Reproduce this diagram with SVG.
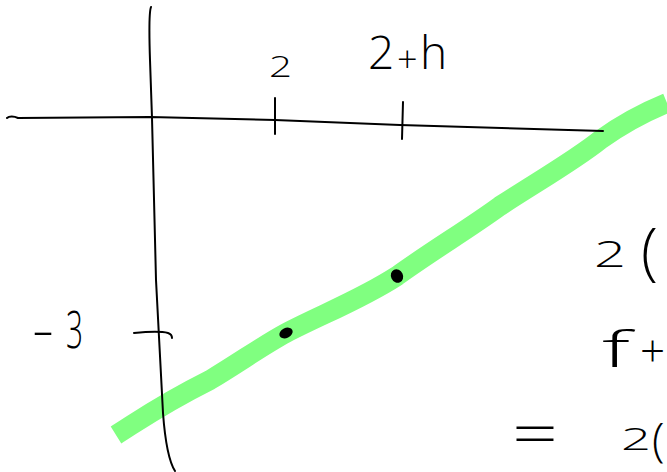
<svg xmlns="http://www.w3.org/2000/svg" width="667" height="472" viewBox="0 0 667 472">
<style>
.ink{fill:none;stroke:#000;stroke-width:2;stroke-linecap:round;stroke-linejoin:round}
.hl{fill:none;stroke:#80FF80;stroke-width:20;stroke-linecap:butt;stroke-linejoin:round}
.t{font-family:"Open Sans","DejaVu Sans",sans-serif;font-weight:300;fill:#000}
.dot{fill:#000}
</style>
<rect width="667" height="472" fill="#fff"/>
<g id="line">
<path class="hl" d="M116,435 C140,420 160,405 210,380 C240,362 262,346 286,333 C320,315 360,300 397,276 C430,252 470,228 500,206 C540,180 575,160 600,140 C625,122 645,112 667,103"/>
</g>
<g id="axes">
<path class="ink" d="M7,118 C9,116 14,116 18,118 L150,117 L275,120 L400,125 L603,131"/>
<path class="ink" d="M151,7 C149,12 149,30 150,60 L152,118 L156,280 L163,413 C165,440 168,460 175,471"/>
<path class="ink" d="M275,98 L275,134"/>
<path class="ink" d="M403,102 L402,139"/>
<path class="ink" d="M134,333 C145,332 160,331 168,333 C171,334 172,336 172,338"/>
</g>
<g id="points">
<ellipse class="dot" cx="286" cy="333" rx="7" ry="5" transform="rotate(-25 286 333)"/>
<ellipse class="dot" cx="397" cy="276" rx="6" ry="7" transform="rotate(-25 397 276)"/>
</g>
<g id="labels">
<text class="t" x="269" y="77" font-size="30" textLength="23" lengthAdjust="spacingAndGlyphs">2</text>
<text class="t" y="69" font-size="46"><tspan x="368">2</tspan><tspan x="397" y="72" font-size="36">+</tspan><tspan x="420" y="69">h</tspan></text>
<text class="t" y="348" font-size="52"><tspan x="32" textLength="22" lengthAdjust="spacingAndGlyphs">-</tspan><tspan x="66" textLength="17" lengthAdjust="spacingAndGlyphs">3</tspan></text>
<text class="t" y="267" font-size="36"><tspan x="594" textLength="32" lengthAdjust="spacingAndGlyphs">2</tspan><tspan x="641" y="273" font-size="62">(</tspan></text>
<text class="t" y="367" font-size="50"><tspan x="602" textLength="28" lengthAdjust="spacingAndGlyphs">f</tspan><tspan x="640" font-size="44">+</tspan></text>
<text class="t" x="512" y="455" font-size="58" textLength="46" lengthAdjust="spacingAndGlyphs">=</text>
<text class="t" y="450" font-size="32"><tspan x="621" textLength="30" lengthAdjust="spacingAndGlyphs">2</tspan><tspan x="652" y="456" font-size="46">(</tspan></text>
</g>
</svg>
